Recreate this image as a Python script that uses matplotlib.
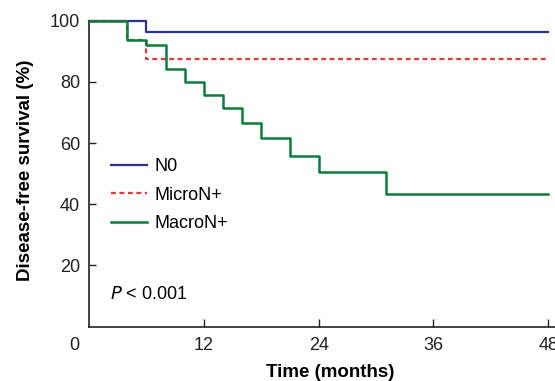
import matplotlib
matplotlib.use("Agg")
import matplotlib.pyplot as plt

plt.rcParams["font.family"] = ["Liberation Sans", "DejaVu Sans"]

# Kaplan-Meier step data (months, survival %)
n0_t = [0, 6, 48]
n0_s = [100, 96.3, 96.3]

micro_t = [0, 4, 6, 48]
micro_s = [100, 93.8, 87.5, 87.5]

macro_t = [0, 4, 6, 8, 10, 12, 14, 16, 18, 21, 24, 31, 48]
macro_s = [100, 93.8, 92.2, 84.1, 80.0, 75.7, 71.4, 66.7, 61.5, 55.9, 50.4, 43.2, 43.2]

x_ticks = [12, 24, 36, 48]
y_ticks = [20, 40, 60, 80, 100]

fig = plt.figure(figsize=(5.55, 3.81), dpi=100)
ax = fig.add_axes([89 / 555, 1 - 326.5 / 381, 466 / 555, 305.8 / 381])

ax.step(n0_t, n0_s, where="post", color="#2E3192", lw=1.6, label="N0", clip_on=False)
ax.step(micro_t, micro_s, where="post", color="#E0383E", lw=1.6, ls=(0, (2.2, 1.6)),
        label="MicroN+", clip_on=False)
ax.step(macro_t, macro_s, where="post", color="#0A7D3E", lw=1.8, label="MacroN+",
        clip_on=False, zorder=3)

ax.set_xlim(0, 48.7)
ax.set_ylim(0, 100)
ax.set_xticks(x_ticks)
ax.set_yticks(y_ticks)
ax.tick_params(direction="in", labelsize=13, width=1, colors="#222222")
ax.tick_params(axis="x", length=6, pad=7.5)
ax.tick_params(axis="y", length=5, pad=6.5)

for side in ["top", "right"]:
    ax.spines[side].set_visible(False)
for side in ["left", "bottom"]:
    ax.spines[side].set_linewidth(1.2)
    ax.spines[side].set_color("#222222")

# origin label sits left of the corner
ax.annotate("0", xy=(0, 0), xycoords="data", xytext=(-10.5, -7.5),
            textcoords="offset points", ha="center", va="top", fontsize=13,
            color="#222222")

ax.set_xlabel("Time (months)", fontsize=13.5, fontweight="bold")
ax.set_ylabel("Disease-free survival (%)", fontsize=13.5, fontweight="bold")
ax.xaxis.set_label_coords(0.517, -0.124)
ax.yaxis.set_label_coords(-0.117, 0.51)

ax.legend(loc="center left", bbox_to_anchor=(0.027, 0.43), frameon=False, fontsize=13,
          handlelength=2.0, handletextpad=0.45, labelspacing=0.64, borderpad=0)

ax.text(0.045, 0.105, r"$\it{P}$ < 0.001", transform=ax.transAxes, fontsize=13,
        ha="left", va="center")

fig.savefig("out.png", dpi=100)
